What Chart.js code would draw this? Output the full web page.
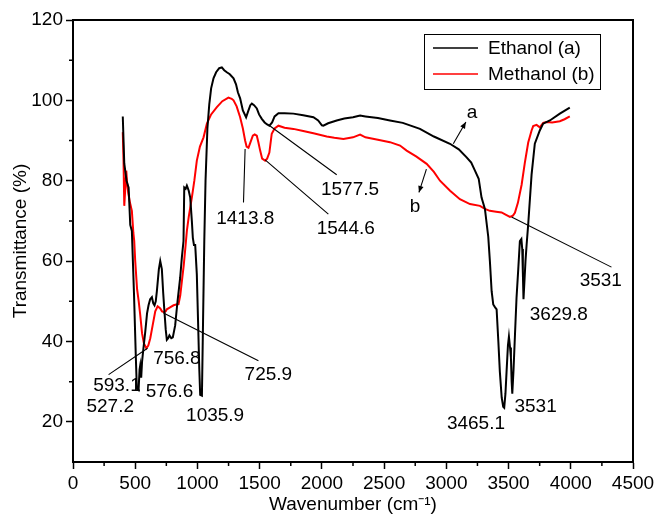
<!DOCTYPE html>
<html>
<head>
<meta charset="utf-8">
<script src="https://cdn.jsdelivr.net/npm/chart.js@4.4.0/dist/chart.umd.min.js"></script>
<style>
  html, body { margin: 0; padding: 0; background: #fff; }
  #wrap { width: 658px; height: 517px; }
</style>
</head>
<body>
<div id="wrap"><canvas id="ftir"></canvas></div>
<script>
// FTIR spectra (wavenumber cm-1, transmittance %)
const ethanolX = [400, 412, 430, 447, 460, 473, 490, 505, 513, 527, 535, 540, 548, 555, 565, 581, 595, 607, 620, 634, 645, 655, 665, 674, 690, 701, 714, 725, 733, 745, 754, 765, 775, 790, 802, 821, 840, 861, 875, 888, 894, 905, 915, 921, 930, 942, 955, 963, 972, 982, 995, 1005, 1015, 1022, 1036, 1045, 1055, 1065, 1080, 1095, 1110, 1129, 1150, 1175, 1196, 1215, 1236, 1260, 1290, 1310, 1325, 1343, 1365, 1391, 1410, 1425, 1437, 1455, 1477, 1495, 1517, 1540, 1560, 1578, 1600, 1620, 1651, 1700, 1771, 1850, 1932, 1970, 2000, 2012, 2050, 2119, 2180, 2250, 2307, 2350, 2450, 2547, 2650, 2788, 2900, 3029, 3100, 3163, 3200, 3230, 3260, 3283, 3310, 3337, 3350, 3364, 3377, 3392, 3404, 3418, 3430, 3445, 3457, 3465, 3475, 3484, 3495, 3503, 3512, 3519, 3525, 3530, 3540, 3552, 3564, 3578, 3591, 3603, 3610, 3615, 3620, 3626, 3636, 3645, 3658, 3685, 3711, 3751, 3778, 3832, 3912, 3992];
const ethanolY = [96, 84.3, 80, 78.3, 69, 67.5, 52, 36, 28.3, 27.9, 33, 34, 31, 35, 38, 42.5, 47, 49, 50.5, 51, 49.5, 49, 50, 52.5, 58, 60, 58, 52, 48.3, 43, 40.4, 40.8, 41.5, 40.8, 41, 44, 50, 55.8, 61, 65, 78.3, 78, 78.8, 78.3, 77.5, 75.8, 70, 65.8, 64, 64, 56.7, 45, 33, 26.7, 26.5, 45, 65, 80, 93, 99, 103, 105.5, 107, 108, 108.2, 107.5, 107, 106.5, 105.5, 104, 102, 100.5, 97.5, 95.8, 97.5, 98.8, 99.2, 98.8, 98, 96.5, 95.4, 94.5, 94, 93.7, 94.5, 96, 96.8, 96.8, 96.7, 96.3, 95.8, 95, 93.8, 93.7, 94.3, 95, 95.5, 95.8, 96.2, 96, 95.6, 95, 94.4, 92.9, 91, 89.2, 87.8, 85.8, 84.5, 82.5, 80.5, 75.8, 73, 66, 60, 52.5, 49.2, 48.5, 48, 40, 32.5, 26, 23.75, 23.5, 27, 32.5, 39, 41.2, 38.5, 36, 30, 27, 33, 42, 50.8, 58, 65, 65.5, 63, 57, 50.5, 54, 60, 64, 69.2, 81.5, 89.2, 92.5, 94.2, 95, 96.7, 98.2];

const methanolX = [400, 406, 412, 420, 428, 436, 444, 458, 473, 485, 492, 500, 515, 528, 540, 555, 570, 589, 605, 621, 640, 661, 680, 690, 701, 715, 733, 745, 754, 780, 808, 830, 848, 862, 875, 890, 905, 915, 930, 955, 975, 995, 1020, 1049, 1076, 1110, 1156, 1200, 1249, 1275, 1290, 1315, 1343, 1365, 1383, 1395, 1410, 1425, 1445, 1460, 1477, 1490, 1504, 1520, 1544, 1560, 1578, 1590, 1597, 1620, 1651, 1700, 1771, 1850, 1932, 2039, 2100, 2173, 2250, 2307, 2350, 2450, 2547, 2628, 2681, 2760, 2842, 2900, 2949, 3030, 3109, 3190, 3270, 3310, 3350, 3400, 3444, 3480, 3511, 3535, 3551, 3575, 3605, 3631, 3658, 3685, 3698, 3725, 3751, 3778, 3805, 3850, 3912, 3950, 3992];
const methanolY = [92.1, 85, 73.75, 78, 82.5, 79, 77, 74.5, 72.5, 67, 65, 60, 53, 50, 46.7, 42, 39.5, 38.3, 39, 40.8, 44, 47.5, 48.75, 48.5, 48.2, 47.5, 47.3, 47.5, 48, 48.5, 49, 49.2, 49.3, 51.5, 55, 59, 64, 67.5, 71, 75.8, 80, 85, 88.5, 90.8, 94.2, 96.5, 98.3, 99.8, 100.7, 100.4, 100, 98.5, 95.8, 93, 90, 88.5, 88.2, 89.5, 91.2, 91.5, 91.2, 89.5, 87.5, 85.5, 85, 85.5, 87, 90, 91.7, 93, 93.7, 93.2, 92.9, 92.4, 91.8, 91, 90.7, 90.4, 90.8, 91.5, 90.8, 90.2, 89.6, 88.75, 87.5, 86, 84.2, 82.2, 80, 77.5, 75.4, 74.2, 73.75, 73, 72.5, 72.3, 72.1, 71.5, 71, 71.3, 72, 74.5, 79, 84.5, 89.5, 92.5, 93.6, 93.9, 93.3, 94.4, 94.6, 94.5, 94.8, 95.3, 96];

const xTicks = [0, 500, 1000, 1500, 2000, 2500, 3000, 3500, 4000, 4500];
const xMinor = [250, 750, 1250, 1750, 2250, 2750, 3250, 3750, 4250];
const yTicks = [20, 40, 60, 80, 100, 120];
const yMinor = [30, 50, 70, 90, 110];

// peak labels: text, centre (wavenumber, %)
const peakText = ['1413.8', '1577.5', '1544.6', '756.8', '725.9', '593.1', '527.2', '576.6', '1035.9', '3629.8', '3531', '3465.1', '3531'];
const peakX = [1384, 2226, 2192, 835, 1570, 353, 299, 776, 1142, 3904, 3717, 3238, 4241];
const peakY = [70.5, 77.75, 68, 35.75, 31.6, 29, 23.75, 27.5, 21.5, 46.7, 23.75, 19.6, 55];
// leader lines [x1, y1, x2, y2]
const leaders = [
  [1370, 74.6, 1383, 87.9],
  [2119, 81.5, 1578, 93.75],
  [2052, 71.7, 1544, 85.2],
  [1490, 35.2, 727, 47.1],
  [286, 31.75, 599, 38.3],
  [4327, 58.5, 3524, 71]
];
// curve markers a / b with arrows
const markText = ['a', 'b'];
const markX = [3206, 2748];
const markY = [96.8, 73.5];
const arrows = [
  [3056, 89.2, 3157, 94.6],
  [2840, 82.9, 2780, 77.1]
];

const FONT = "'Liberation Sans', Arial, Helvetica, sans-serif";

const toPoints = (xs, ys) => xs.map((x, i) => ({ x: x, y: ys[i] }));

const extras = {
  id: 'extras',
  afterDatasetsDraw(chart) {
    const { ctx, chartArea: a, scales: { x, y } } = chart;
    ctx.save();
    ctx.strokeStyle = '#000';
    ctx.fillStyle = '#000';

    // frame
    ctx.lineWidth = 2;
    ctx.strokeRect(a.left, a.top, a.right - a.left, a.bottom - a.top);

    // minor ticks
    ctx.lineWidth = 1.5;
    ctx.beginPath();
    xMinor.forEach(v => {
      const px = x.getPixelForValue(v);
      ctx.moveTo(px, a.bottom);
      ctx.lineTo(px, a.bottom + 4);
    });
    yMinor.forEach(v => {
      const py = y.getPixelForValue(v);
      ctx.moveTo(a.left, py);
      ctx.lineTo(a.left - 4, py);
    });
    ctx.stroke();

    // leader lines
    ctx.lineWidth = 1.1;
    ctx.beginPath();
    leaders.forEach(l => {
      ctx.moveTo(x.getPixelForValue(l[0]), y.getPixelForValue(l[1]));
      ctx.lineTo(x.getPixelForValue(l[2]), y.getPixelForValue(l[3]));
    });
    ctx.stroke();

    // arrows
    arrows.forEach(l => {
      const x1 = x.getPixelForValue(l[0]), y1 = y.getPixelForValue(l[1]);
      const x2 = x.getPixelForValue(l[2]), y2 = y.getPixelForValue(l[3]);
      const ang = Math.atan2(y2 - y1, x2 - x1);
      ctx.beginPath();
      ctx.moveTo(x1, y1);
      ctx.lineTo(x2, y2);
      ctx.stroke();
      ctx.beginPath();
      ctx.moveTo(x2, y2);
      ctx.lineTo(x2 - 7 * Math.cos(ang - 0.4), y2 - 7 * Math.sin(ang - 0.4));
      ctx.lineTo(x2 - 7 * Math.cos(ang + 0.4), y2 - 7 * Math.sin(ang + 0.4));
      ctx.closePath();
      ctx.fill();
    });

    // texts
    ctx.font = '19px ' + FONT;
    ctx.textAlign = 'center';
    ctx.textBaseline = 'middle';
    peakText.forEach((t, i) => {
      ctx.fillText(t, x.getPixelForValue(peakX[i]), y.getPixelForValue(peakY[i]));
    });
    markText.forEach((t, i) => {
      ctx.fillText(t, x.getPixelForValue(markX[i]), y.getPixelForValue(markY[i]));
    });

    // legend box
    const bx = a.right - 209, by = a.top + 14, bw = 176, bh = 55;
    ctx.fillStyle = '#fff';
    ctx.fillRect(bx, by, bw, bh);
    ctx.lineWidth = 1;
    ctx.strokeStyle = '#000';
    ctx.strokeRect(bx + 0.5, by + 0.5, bw, bh);
    ctx.textAlign = 'left';
    chart.data.datasets.forEach((ds, i) => {
      const ly = by + 14 + i * 26;
      ctx.strokeStyle = ds.borderColor;
      ctx.lineWidth = 1.5;
      ctx.beginPath();
      ctx.moveTo(bx + 9, ly);
      ctx.lineTo(bx + 54, ly);
      ctx.stroke();
      ctx.fillStyle = '#000';
      ctx.fillText(ds.label, bx + 64, ly + 1);
    });
    ctx.restore();
  }
};

new Chart(document.getElementById('ftir'), {
  type: 'scatter',
  data: {
    datasets: [
      {
        label: 'Ethanol (a)',
        data: toPoints(ethanolX, ethanolY),
        showLine: true,
        borderColor: '#000000',
        borderWidth: 2,
        pointRadius: 0,
        tension: 0
      },
      {
        label: 'Methanol (b)',
        data: toPoints(methanolX, methanolY),
        showLine: true,
        borderColor: '#ff0000',
        borderWidth: 2,
        pointRadius: 0,
        tension: 0
      }
    ]
  },
  options: {
    responsive: true,
    maintainAspectRatio: false,
    animation: false,
    layout: { padding: { top: 20, right: 25, left: 0, bottom: 0 } },
    plugins: {
      legend: { display: false },
      tooltip: { enabled: false }
    },
    scales: {
      x: {
        type: 'linear',
        min: 0,
        max: 4500,
        afterBuildTicks: s => { s.ticks = xTicks.map(v => ({ value: v })); },
        afterFit: s => { s.height = 55; },
        grid: { drawOnChartArea: false, drawTicks: true, tickLength: 7, tickWidth: 1.5, tickColor: '#000' },
        border: { display: true, color: '#000', width: 2 },
        ticks: {
          color: '#000',
          padding: 3,
          maxRotation: 0,
          autoSkip: false,
          font: { family: FONT, size: 19 },
          callback: v => String(v)
        },
        title: {
          display: true,
          text: 'Wavenumber (cm\u207B\u00B9)',
          color: '#000',
          font: { family: FONT, size: 19 },
          padding: { top: 0, bottom: 1 }
        }
      },
      y: {
        type: 'linear',
        min: 10,
        max: 120,
        afterBuildTicks: s => { s.ticks = yTicks.map(v => ({ value: v })); },
        afterFit: s => { s.width = 73; },
        grid: { drawOnChartArea: false, drawTicks: true, tickLength: 7, tickWidth: 1.5, tickColor: '#000' },
        border: { display: true, color: '#000', width: 2 },
        ticks: {
          color: '#000',
          padding: 3,
          autoSkip: false,
          font: { family: FONT, size: 19 },
          callback: v => String(v)
        },
        title: {
          display: true,
          text: 'Transmittance (%)',
          color: '#000',
          font: { family: FONT, size: 19 },
          padding: { top: 9, bottom: 0 }
        }
      }
    }
  },
  plugins: [extras]
});
</script>
</body>
</html>
